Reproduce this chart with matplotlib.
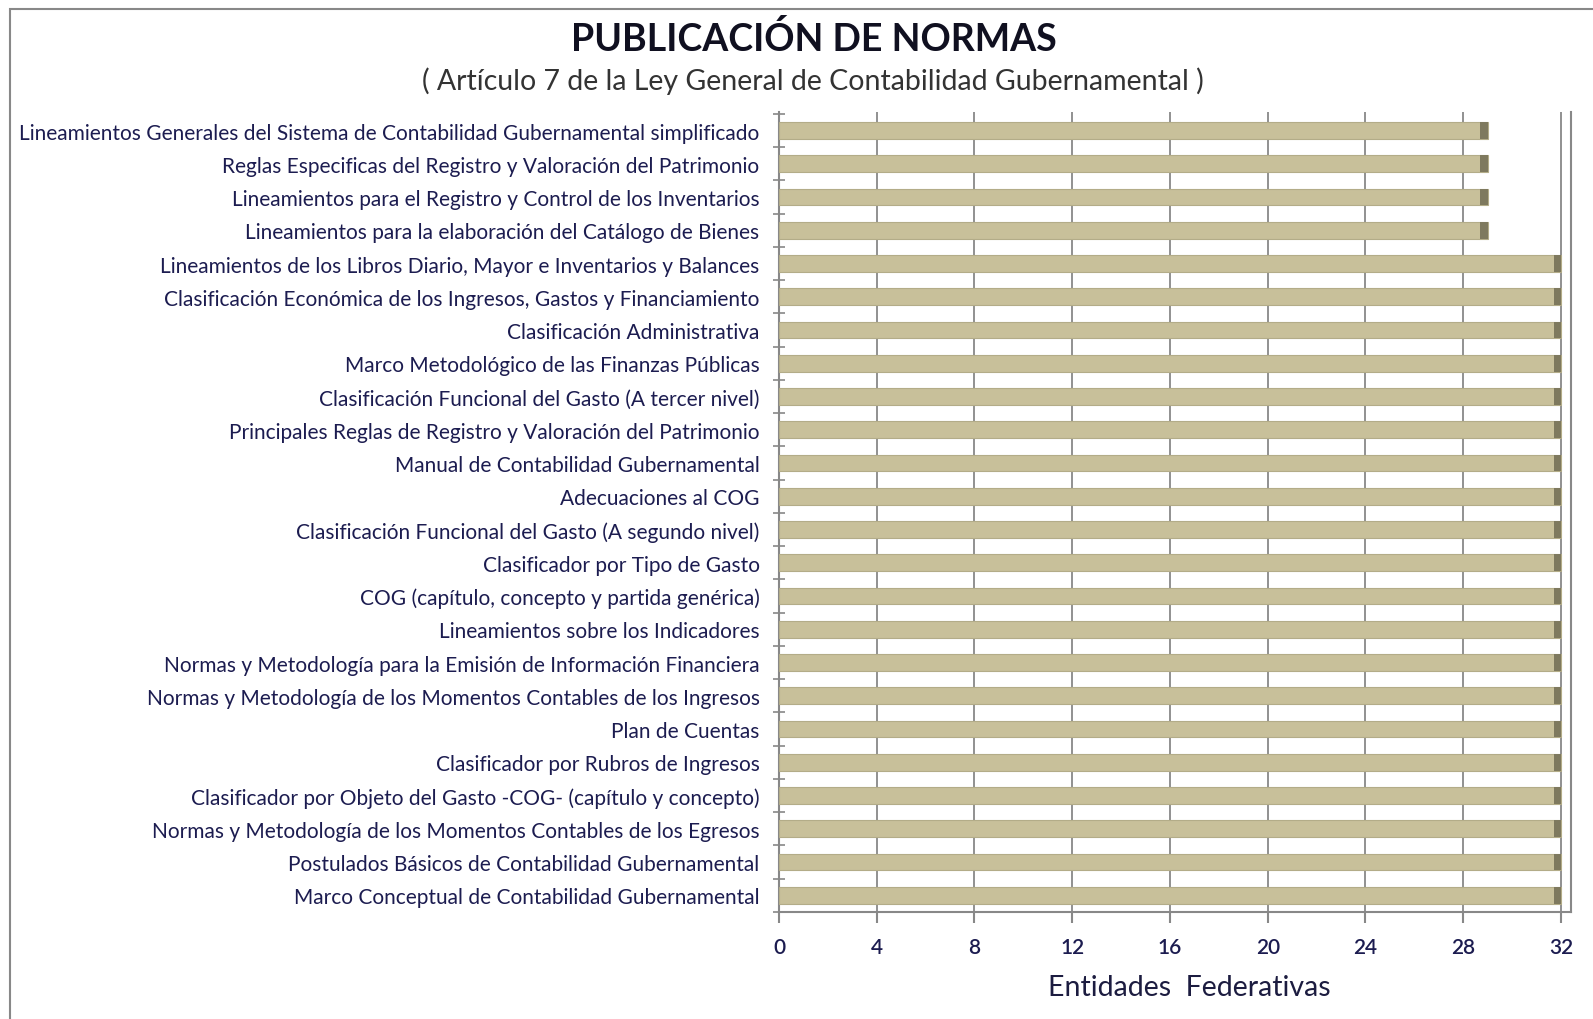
import matplotlib
matplotlib.use("Agg")
import matplotlib.pyplot as plt
from matplotlib.patches import Rectangle
from matplotlib.ticker import MultipleLocator

# categories from bottom to top
normas = [
    "Marco Conceptual de Contabilidad Gubernamental",
    "Postulados Básicos de Contabilidad Gubernamental",
    "Normas y Metodología de los Momentos Contables de los Egresos",
    "Clasificador por Objeto del Gasto -COG- (capítulo y concepto)",
    "Clasificador por Rubros de Ingresos",
    "Plan de Cuentas",
    "Normas y Metodología de los Momentos Contables de los Ingresos",
    "Normas y Metodología para la Emisión de Información Financiera",
    "Lineamientos sobre los Indicadores",
    "COG (capítulo, concepto y partida genérica)",
    "Clasificador por Tipo de Gasto",
    "Clasificación Funcional del Gasto (A segundo nivel)",
    "Adecuaciones al COG",
    "Manual de Contabilidad Gubernamental",
    "Principales Reglas de Registro y Valoración del Patrimonio",
    "Clasificación Funcional del Gasto (A tercer nivel)",
    "Marco Metodológico de las Finanzas Públicas",
    "Clasificación Administrativa",
    "Clasificación Económica de los Ingresos, Gastos y Financiamiento",
    "Lineamientos de los Libros Diario, Mayor e Inventarios y Balances",
    "Lineamientos para la elaboración del Catálogo de Bienes",
    "Lineamientos para el Registro y Control de los Inventarios",
    "Reglas Especificas del Registro y Valoración del Patrimonio",
    "Lineamientos Generales del Sistema de Contabilidad Gubernamental simplificado",
]
entidades = [32] * 20 + [29] * 4
xticks = list(range(0, 33, 4))

plt.rcParams['font.family'] = ['Lato', 'DejaVu Sans']

fig = plt.figure(figsize=(15.93, 10.20), dpi=100)
ax = fig.add_axes([0.489, 0.105, 0.497, 0.784])

y = list(range(len(normas)))
cap = [0.3] * len(entidades)
ax.barh(y, entidades, height=0.5, color='#C8C09A', edgecolor='#B3AC88',
        linewidth=0.8, zorder=3)
# darker end of each bar (3D look)
ax.barh(y, cap, left=[v - 0.3 for v in entidades], height=0.5,
        color='#7E795E', linewidth=0, zorder=4)

ax.set_xlim(0, 32.4)
ax.set_ylim(-0.5, len(normas) - 0.45)
ax.set_xticks(xticks)
ax.set_yticks(y)
ax.set_yticklabels(normas)
ax.yaxis.set_minor_locator(MultipleLocator(1, offset=0.5))

ax.tick_params(axis='y', which='major', length=0, pad=14, labelsize=15,
               labelcolor='#1C1C50')
ax.tick_params(axis='y', which='minor', length=8, direction='inout',
               color='#888888', width=1.2)
ax.tick_params(axis='x', length=8, width=1.5, color='#888888', pad=10,
               labelsize=15, labelcolor='#1C1C50')
for lbl in ax.get_xticklabels():
    lbl.set_fontweight('semibold')

ax.grid(axis='x', color='#888888', linewidth=1.3, zorder=0)
ax.set_axisbelow(True)
for side in ['left', 'bottom', 'right']:
    ax.spines[side].set_color('#888888')
    ax.spines[side].set_linewidth(1.5)
ax.spines['top'].set_visible(False)

ax.set_xlabel('Entidades  Federativas', fontsize=20.5, color='#1C1C40',
              labelpad=12, x=0.518)

fig.text(0.511, 0.962, 'PUBLICACIÓN DE NORMAS', ha='center', va='center',
         fontsize=27, fontweight='bold', color='#101020')
fig.text(0.510, 0.920, '( Artículo 7 de la Ley General de Contabilidad Gubernamental )',
         ha='center', va='center', fontsize=20.5, color='#333333')

# outer frame
fig.patches.append(Rectangle((0.006, -0.01), 1.0, 1.0, transform=fig.transFigure,
                             fill=False, edgecolor='#888888', linewidth=1.5))

fig.savefig('out.png', dpi=100)
